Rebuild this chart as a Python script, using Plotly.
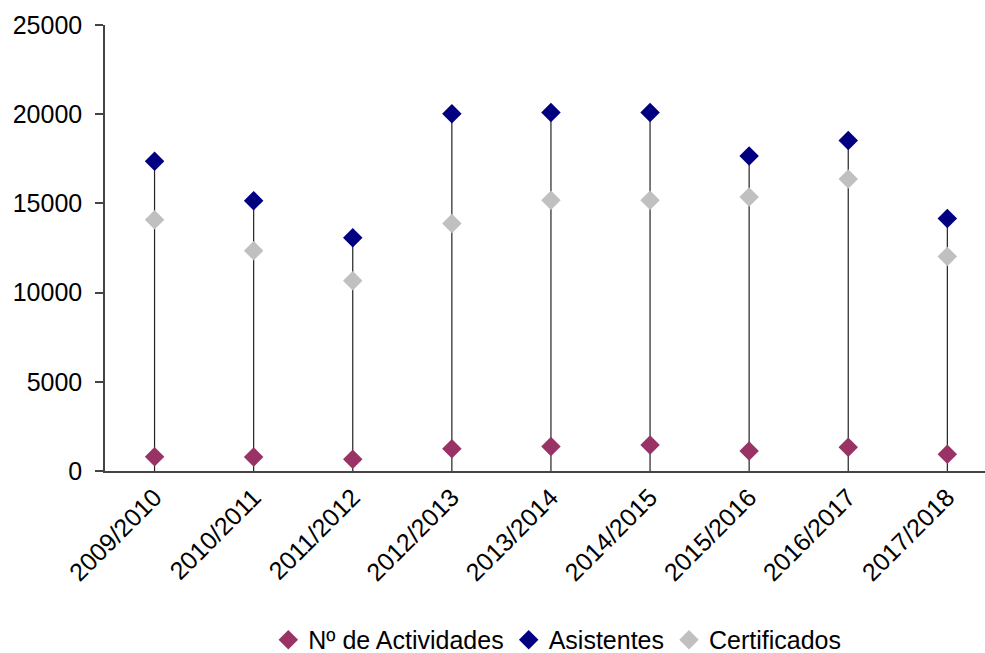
import plotly.graph_objects as go

categories = ["2009/2010", "2010/2011", "2011/2012", "2012/2013", "2013/2014",
              "2014/2015", "2015/2016", "2016/2017", "2017/2018"]
actividades = [800, 785, 655, 1250, 1380, 1460, 1120, 1330, 935]
asistentes = [17360, 15150, 13080, 20030, 20100, 20100, 17660, 18520, 14160]
certificados = [14090, 12350, 10670, 13880, 15170, 15170, 15360, 16370, 12030]
y_ticks = [0, 5000, 10000, 15000, 20000, 25000]

idx = list(range(len(categories)))

# high-low lines from 0 to the max value of each category
hl_x, hl_y = [], []
for i in idx:
    hi = max(actividades[i], asistentes[i], certificados[i])
    hl_x += [i, i, None]
    hl_y += [0, hi, None]

fig = go.Figure()
fig.add_trace(go.Scatter(x=hl_x, y=hl_y, mode="lines",
                         line=dict(color="#222222", width=1.2),
                         showlegend=False, hoverinfo="skip"))

marker_common = dict(symbol="diamond", size=15, line=dict(width=0))
fig.add_trace(go.Scatter(x=idx, y=actividades, mode="markers", name="Nº de Actividades",
                         marker=dict(color="#993366", **marker_common)))
fig.add_trace(go.Scatter(x=idx, y=asistentes, mode="markers", name="Asistentes",
                         marker=dict(color="#000080", **marker_common)))
fig.add_trace(go.Scatter(x=idx, y=certificados, mode="markers", name="Certificados",
                         marker=dict(color="#C0C0C0", **marker_common)))

font_family = "Liberation Sans, Arial, sans-serif"
fig.update_layout(
    width=985, height=653,
    margin=dict(l=105, r=0, t=25, b=182),
    plot_bgcolor="white", paper_bgcolor="white",
    font=dict(family=font_family, size=25, color="black"),
    xaxis=dict(
        range=[-0.5, 8.38],
        tickmode="array", tickvals=idx, ticktext=categories,
        tickangle=-45, tickfont=dict(size=25),
        showgrid=False, zeroline=False,
        showline=True, linecolor="#444444", linewidth=1.5,
        ticks="", automargin=False,
    ),
    yaxis=dict(
        range=[0, 25000],
        tickmode="array", tickvals=y_ticks, ticktext=[str(v) for v in y_ticks],
        tickfont=dict(size=25),
        showgrid=False, zeroline=False,
        showline=True, linecolor="#444444", linewidth=1.5,
        ticks="outside", ticklen=8, tickcolor="#444444", tickwidth=1.5,
        ticklabelstandoff=8, automargin=False,
    ),
    legend=dict(orientation="h", x=0.514, xanchor="center",
                yref="container", y=0.02, yanchor="middle",
                font=dict(size=25), itemwidth=30, tracegroupgap=0,
                borderwidth=0),
    showlegend=True,
)

fig.write_html(
    "out.html",
    config={"displayModeBar": False},
    post_script="document.body.style.margin='0';document.body.style.overflow='hidden';",
)
